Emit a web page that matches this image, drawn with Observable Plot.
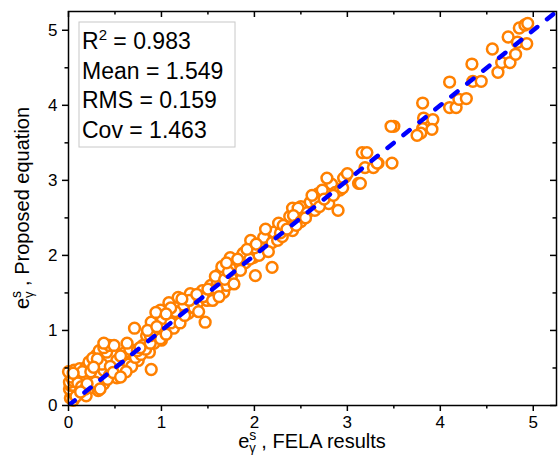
<!DOCTYPE html>
<html><head><meta charset="utf-8">
<script src="https://cdn.jsdelivr.net/npm/d3@7"></script>
<script src="https://cdn.jsdelivr.net/npm/@observablehq/plot@0.6"></script>
<style>
body{margin:0;background:#fff}
svg{font-family:"Liberation Sans",Arial,sans-serif}
</style>
</head><body><div id="chart"></div>
<script>
// FELA results (x) and proposed equation (y)
const felaResults = [
0.02,0.03,0.05,0.01,0.02,0.05,0.01,0.05,0.03,0.09,0.06,0.12,0.19,0.12,0.19,0.25,0.32,0.19,0.28,0.33,
0.38,0.44,0.38,0.52,0.52,0.62,0.75,0.30,0.33,0.41,0.38,0.44,0.49,0.70,0.76,0.87,0.84,0.89,0.97,0.71,
1.00,0.89,0.15,0.22,0.26,0.10,0.14,0.08,0.24,0.36,0.45,0.55,0.60,0.58,0.65,0.68,0.62,0.29,0.42,0.48,
0.56,0.66,0.80,0.72,0.78,0.83,0.92,0.95,0.18,0.00,0.05,0.20,0.34,0.13,0.74,0.63,0.38,0.31,0.27,0.56,
0.99,1.06,1.13,
0.77,0.88,0.99,0.88,1.02,1.13,1.01,1.17,0.94,1.29,1.24,1.08,1.39,1.18,1.31,1.49,1.44,1.47,1.53,1.56,
1.67,1.05,1.10,1.20,1.25,1.35,1.40,1.15,1.30,1.45,1.10,1.22,1.38,1.50,0.85,0.95,1.05,
1.63,1.77,1.74,1.87,1.90,1.60,1.70,1.75,1.80,1.85,1.74,1.96,1.88,1.99,2.01,2.06,2.10,2.19,2.21,2.19,
1.95,2.05,2.15,2.00,1.65,1.58,1.68,2.25,2.30,
1.60,1.72,1.82,1.92,2.02,2.12,2.28,2.38,2.52,2.68,2.83,2.50,1.55,1.62,1.78,1.70,
2.26,2.31,2.41,2.41,2.47,2.42,2.57,2.60,2.66,2.80,2.90,2.73,2.87,2.78,2.98,3.12,2.92,2.96,3.00,2.50,
2.55,2.65,2.70,2.35,2.45,2.75,2.85,2.95,2.62,
3.16,3.21,3.19,3.28,3.33,3.48,3.50,3.47,3.81,3.82,3.92,3.81,3.91,3.79,3.75,3.14,3.32,
4.10,4.17,4.20,4.28,4.10,4.35,4.44,4.34,4.62,4.56,4.66,4.75,4.81,4.73,4.83,4.93,4.85,4.91,4.94
];
const proposedEq = [
0.10,0.17,0.07,0.22,0.27,0.27,0.31,0.33,0.38,0.40,0.47,0.49,0.51,0.17,0.13,0.24,0.20,0.37,0.36,0.43,
0.47,0.40,0.29,0.37,0.60,0.60,0.60,0.67,0.73,0.71,0.77,0.80,0.80,0.69,0.76,0.71,0.93,1.11,1.03,1.03,
0.87,0.48,0.45,0.58,0.63,0.30,0.25,0.12,0.45,0.55,0.52,0.48,0.70,0.47,0.55,0.52,0.45,0.31,0.35,0.44,
0.66,0.75,0.80,0.64,0.68,0.75,0.83,0.95,0.22,0.45,0.43,0.29,0.22,0.18,0.73,0.83,0.83,0.62,0.51,0.38,
1.27,1.22,1.09,
0.77,0.83,0.89,0.93,1.04,1.03,1.16,1.17,1.24,1.23,1.33,1.37,1.37,1.44,1.49,1.40,1.53,1.11,1.60,1.47,
1.51,0.95,1.10,1.10,1.20,1.30,1.25,1.25,1.40,1.45,1.30,1.42,1.48,1.55,1.00,1.05,1.22,
1.76,1.77,1.97,2.00,1.90,1.65,1.60,1.70,1.85,1.80,1.83,2.20,2.03,1.97,1.73,2.11,2.24,2.17,2.31,1.84,
1.95,2.00,2.05,2.10,1.85,1.72,1.68,2.20,2.25,
1.55,1.78,1.95,2.08,2.15,2.35,2.30,2.52,2.58,2.82,2.95,2.65,1.40,1.45,1.62,1.90,
2.43,2.40,2.33,2.63,2.63,2.53,2.57,2.71,2.73,2.69,2.60,2.87,2.84,3.03,3.05,2.96,2.87,3.03,3.09,2.45,
2.50,2.60,2.65,2.35,2.40,2.75,2.80,2.90,2.80,
3.37,3.37,3.17,3.17,3.23,3.23,3.72,3.72,4.03,3.83,3.81,3.69,3.68,3.63,3.60,2.96,3.23,
3.97,3.97,4.08,4.09,4.31,4.32,4.32,4.55,4.44,4.75,4.57,4.57,4.68,4.91,4.84,4.82,5.03,5.07,5.09
];
const axisMax = 5.25;
const majorTicks = [0, 1, 2, 3, 4, 5];
const minorTicks = [0.5, 1.5, 2.5, 3.5, 4.5];
const identityLine = [0, axisMax];
const statNames = ["R", "Mean", "RMS", "Cov"];
const statValues = ["0.983", "1.549", "0.159", "1.463"];
const xTitle = "FELA results";
const yTitle = "Proposed equation";

const W = 558, H = 459, mL = 68, mR = 2, mT = 11, mB = 54;
const plotW = W - mL - mR, plotH = H - mT - mB;
const points = felaResults.map((x, i) => ({x, y: proposedEq[i]}));
const ORANGE = "#FF8000", BLUE = "#0000FF";
const fmt = d => String(d);

const chart = Plot.plot({
  width: W, height: H,
  marginLeft: mL, marginRight: mR, marginTop: mT, marginBottom: mB,
  x: {domain: [0, axisMax]},
  y: {domain: [0, axisMax]},
  style: {fontFamily: "'Liberation Sans', Arial, sans-serif", fontSize: "17px", color: "black", background: "white"},
  marks: [
    Plot.dot(points, {x: "x", y: "y", r: 5.4, stroke: ORANGE, strokeWidth: 2.5, fill: "white"}),
    Plot.line(identityLine, {x: d => d, y: d => d, stroke: BLUE, strokeWidth: 4.5,
      strokeDasharray: "8,12.5", strokeLinecap: "round", clip: true}),
    Plot.frame({stroke: "black", strokeWidth: 1.5}),
    Plot.axisX(majorTicks, {anchor: "bottom", tickSize: 6, tickPadding: 4, tickFormat: fmt, label: null, strokeWidth: 1.5, fontSize: 17}),
    Plot.axisX(minorTicks, {anchor: "bottom", tickSize: 3.5, tickFormat: () => "", label: null, strokeWidth: 1.5}),
    Plot.axisY(majorTicks, {anchor: "left", tickSize: 6, tickPadding: 5, tickFormat: fmt, label: null, strokeWidth: 1.5, fontSize: 17}),
    Plot.axisY(minorTicks, {anchor: "left", tickSize: 3.5, tickFormat: () => "", label: null, strokeWidth: 1.5}),
    Plot.ruleX(majorTicks, {insetBottom: plotH - 6, strokeWidth: 1.5}),
    Plot.ruleX(minorTicks, {insetBottom: plotH - 3.5, strokeWidth: 1.5}),
    Plot.ruleY(majorTicks, {insetLeft: plotW - 6, strokeWidth: 1.5}),
    Plot.ruleY(minorTicks, {insetLeft: plotW - 3.5, strokeWidth: 1.5})
  ]
});
document.getElementById("chart").appendChild(chart);

const svg = d3.select(chart);
const ff = "'Liberation Sans', Arial, sans-serif";

// statistics box
const box = svg.append("g").attr("text-anchor", "start");
box.append("rect").attr("x", mL + 11).attr("y", mT + 11).attr("width", 156).attr("height", 125)
  .attr("fill", "white").attr("stroke", "#c8c8c8").attr("stroke-width", 1);
statNames.forEach((name, i) => {
  const t = box.append("text").attr("x", mL + 14).attr("y", mT + 38 + i * 29.7)
    .attr("text-anchor", "start")
    .attr("font-family", ff).attr("font-size", 23).attr("fill", "black");
  if (i === 0) {
    t.append("tspan").text(name);
    t.append("tspan").text("2").attr("font-size", 15).attr("dy", -9);
    t.append("tspan").text(" = " + statValues[i]).attr("dy", 9);
  } else {
    t.text(name + " = " + statValues[i]);
  }
});

// axis titles with e^s_γ
function axisTitle(g, rest) {
  const t = g.append("text").attr("font-family", ff).attr("font-size", 20).attr("fill", "black")
    .attr("text-anchor", "middle");
  t.append("tspan").text("e");
  t.append("tspan").text("s").attr("font-size", 14).attr("dy", -8);
  t.append("tspan").text("γ").attr("font-size", 13).attr("dx", -7).attr("dy", 12);
  t.append("tspan").text(" , " + rest).attr("dy", -4);
  return t;
}
axisTitle(svg.append("g").attr("transform", `translate(${mL + plotW / 2},${H - 11})`), xTitle);
axisTitle(svg.append("g").attr("transform", `translate(29,${mT + plotH / 2}) rotate(-90)`), yTitle);
</script>
</body></html>
